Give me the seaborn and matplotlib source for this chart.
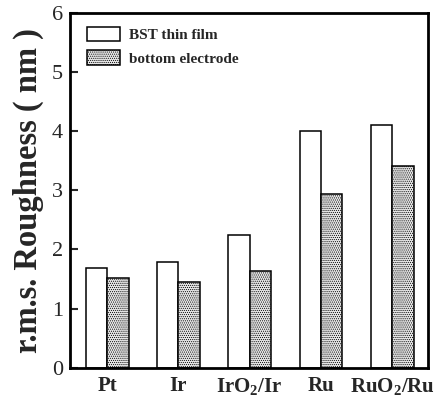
import matplotlib
matplotlib.use("Agg")
import matplotlib.pyplot as plt
import seaborn as sns
import pandas as pd
from matplotlib.patches import Patch

categories = ["Pt", "Ir", "IrO$_\\mathbf{2}$/Ir", "Ru", "RuO$_\\mathbf{2}$/Ru"]
series_names = ["BST thin film", "bottom electrode"]
bst_values = [1.69, 1.79, 2.24, 4.00, 4.11]
electrode_values = [1.52, 1.45, 1.63, 2.94, 3.42]
y_ticks = [0, 1, 2, 3, 4, 5, 6]

rows = []
for c, v in zip(categories, bst_values):
    rows.append({"cat": c, "series": series_names[0], "val": v})
for c, v in zip(categories, electrode_values):
    rows.append({"cat": c, "series": series_names[1], "val": v})
df = pd.DataFrame(rows)

sns.set_theme(style="white")
plt.rcParams["font.family"] = ["Liberation Serif", "DejaVu Serif"]
plt.rcParams["mathtext.fontset"] = "custom"
plt.rcParams["mathtext.rm"] = "Liberation Serif"
plt.rcParams["mathtext.bf"] = "Liberation Serif:bold"
plt.rcParams["hatch.color"] = "#808080"
plt.rcParams["hatch.linewidth"] = 0.5

fig = plt.figure(figsize=(4.41, 4.03), dpi=100)
ax = fig.add_axes([0.159, 0.0876, 0.811, 0.880])

sns.barplot(data=df, x="cat", y="val", hue="series", order=categories,
            hue_order=series_names, width=0.6, ax=ax, legend=False,
            edgecolor="black", linewidth=1.1, saturation=1)

styles = [dict(fc="white", hatch=None), dict(fc="#e6e6e6", hatch="........")]
for cont, st in zip(ax.containers, styles):
    for p in cont:
        p.set_facecolor(st["fc"])
        p.set_edgecolor("black")
        if st["hatch"]:
            p.set_hatch(st["hatch"])

ax.set_ylim(0, 6)
ax.set_xlim(-0.52, 4.5)
ax.set_yticks(y_ticks)
ax.set_yticklabels([str(t) for t in y_ticks], fontsize=16)
ax.set_xticks(range(len(categories)))
ax.set_xticklabels(categories, fontsize=15, fontweight="bold")
ax.tick_params(axis="y", direction="in", length=6, width=1.5, left=True, pad=5)
ax.tick_params(axis="x", length=0, pad=6)
ax.set_xlabel("")
ax.set_ylabel("r.m.s. Roughness ( nm )", fontsize=23.5, fontweight="bold", labelpad=6)
for s in ax.spines.values():
    s.set_linewidth(2)
    s.set_color("black")

handles = [Patch(facecolor="white", edgecolor="black", linewidth=1.1),
           Patch(facecolor="#e6e6e6", edgecolor="black", hatch="........", linewidth=1.1)]
ax.legend(handles, series_names, loc="upper left", frameon=False,
          prop={"weight": "bold", "size": 11}, handlelength=2.1, handleheight=1.1,
          borderaxespad=0.5, labelspacing=0.5, handletextpad=0.65,
          bbox_to_anchor=(0.01, 1.0))

fig.savefig("out.png", dpi=100)
